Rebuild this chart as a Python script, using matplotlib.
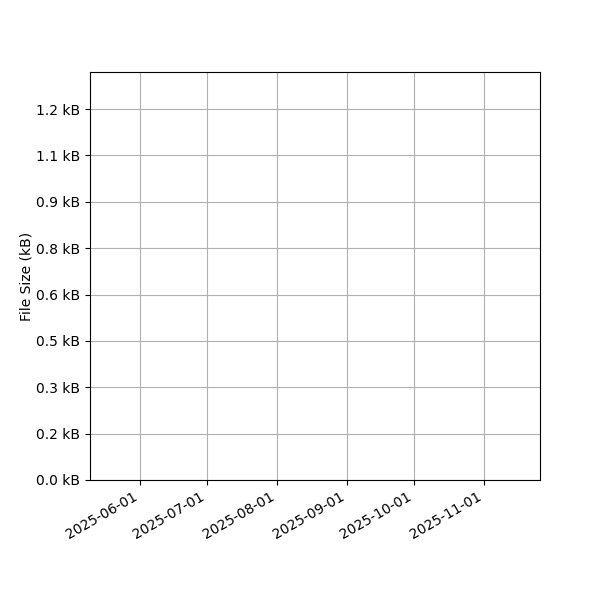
import matplotlib
matplotlib.use("Agg")
import matplotlib.pyplot as plt
import matplotlib.dates as mdates
import numpy as np
import datetime as dt

# Data (the reference chart shows no plotted series)
dates = []
sizes_bytes = []

y_tick_values = [0, 150, 300, 450, 600, 750, 900, 1050, 1200]
y_tick_labels = ["0.0 kB", "0.2 kB", "0.3 kB", "0.5 kB", "0.6 kB",
                 "0.8 kB", "0.9 kB", "1.1 kB", "1.2 kB"]
x_start = dt.datetime(2025, 5, 10)
x_end = dt.datetime(2025, 11, 26)

fig, ax = plt.subplots(figsize=(6, 6), dpi=100)
fig.subplots_adjust(left=0.15, right=0.9, bottom=0.2, top=0.88)

ax.plot(dates, sizes_bytes)
ax.set_xlim(x_start, x_end)
ax.set_ylim(0, 1320)
ax.set_yticks(y_tick_values)
ax.set_yticklabels(y_tick_labels)
ax.set_ylabel("File Size (kB)", labelpad=2)

ax.xaxis.set_major_locator(mdates.MonthLocator())
ax.xaxis.set_major_formatter(mdates.DateFormatter("%Y-%m-%d"))
for lab in ax.get_xticklabels():
    lab.set_rotation(30)
    lab.set_ha("right")

ax.grid(True, color="#b0b0b0", linewidth=0.8)

fig.savefig("out.png", dpi=100)
